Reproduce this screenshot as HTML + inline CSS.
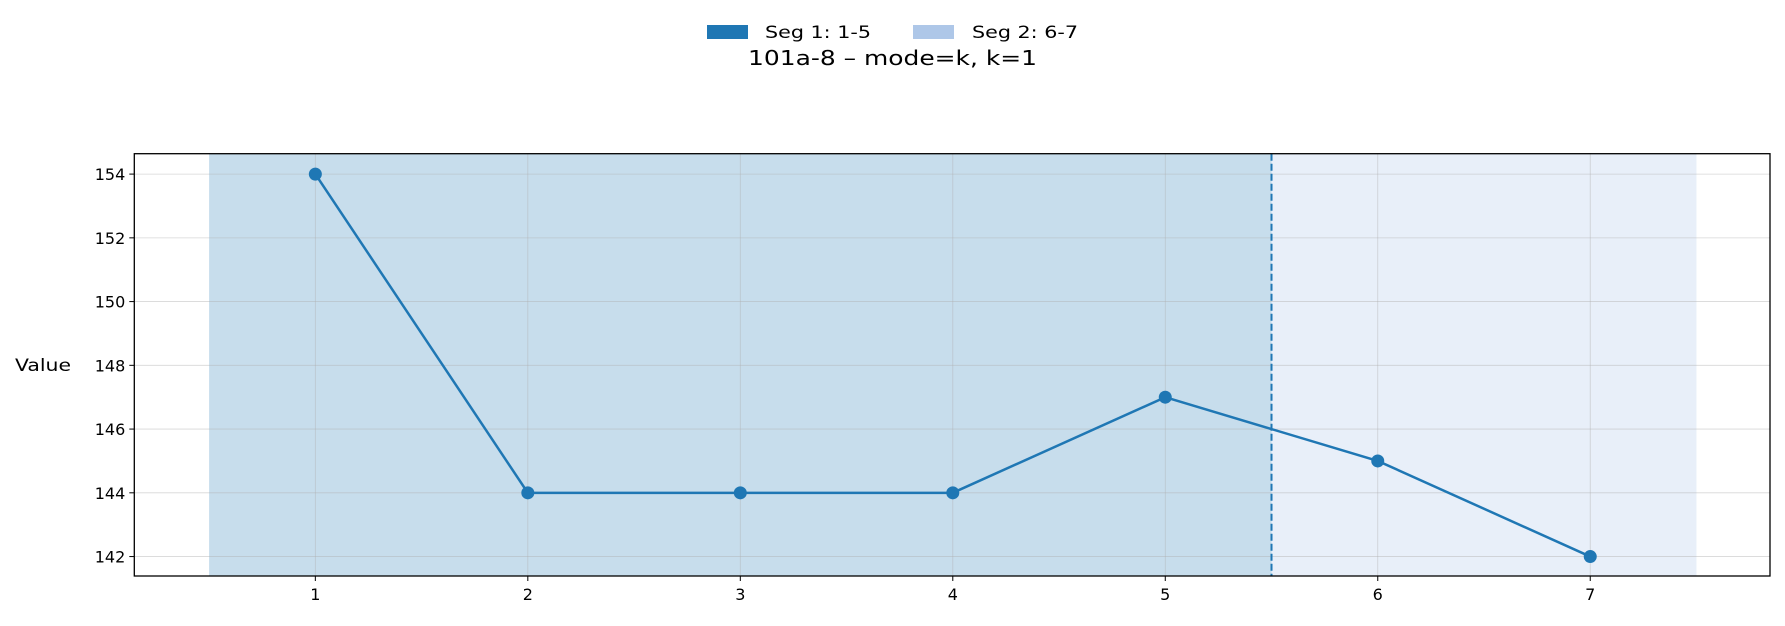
<!DOCTYPE html>
<html><head><meta charset="utf-8"><style>
body{margin:0;background:#fff;}
svg{display:block;font-family:"DejaVu Sans","Liberation Sans",sans-serif;}
</style></head><body>
<svg id="chart" width="1785" height="626" xmlns="http://www.w3.org/2000/svg">
<g>
<rect x="707" y="25" width="41" height="14" fill="#1f77b4"/>
<text x="765" y="38" font-size="17" textLength="106" lengthAdjust="spacingAndGlyphs">Seg 1: 1-5</text>
<rect x="913" y="25" width="41" height="14" fill="#aec7e8"/>
<text x="972" y="38" font-size="17" textLength="106" lengthAdjust="spacingAndGlyphs">Seg 2: 6-7</text>
</g>
<text x="748" y="65" font-size="20" textLength="289" lengthAdjust="spacingAndGlyphs">101a-8 – mode=k, k=1</text>
<text x="15" y="371" font-size="17" textLength="56" lengthAdjust="spacingAndGlyphs">Value</text>
<g id="plot"></g>
</svg>
<script>
const categories=[1,2,3,4,5,6,7];
const values=[154,144,144,144,147,145,142];
const yTicks=[142,144,146,148,150,152,154];
const segments=[[0.5,5.5,'#1f77b4',0.25],[5.5,7.5,'#aec7e8',0.28]];
const boundary=5.5;
const L=134.3,R=1770,T=153.7,B=576;
const xmin=0.148,xmax=7.846,ymin=141.39,ymax=154.64;
const xs=v=>L+(v-xmin)/(xmax-xmin)*(R-L);
const ys=v=>B-(v-ymin)/(ymax-ymin)*(B-T);
const NS='http://www.w3.org/2000/svg';
const g=document.getElementById('plot');
function mk(t,a){const e=document.createElementNS(NS,t);for(const k in a)e.setAttribute(k,a[k]);g.appendChild(e);return e;}
segments.forEach((s,i)=>{const e=mk('rect',{x:xs(s[0]),y:T,width:xs(s[1])-xs(s[0]),height:B-T,fill:s[2],'fill-opacity':s[3]});

});
categories.forEach(c=>{const e=mk('line',{x1:xs(c),x2:xs(c),y1:T,y2:B,stroke:'#b0b0b0','stroke-opacity':0.5,'stroke-width':0.8});


const t=mk('line',{x1:xs(c),x2:xs(c),y1:B,y2:B+5,stroke:'#000','stroke-width':1});


const l=mk('text',{x:xs(c),y:B+24,'font-size':16,'text-anchor':'middle'});l.textContent=c;

});
yTicks.forEach(v=>{const e=mk('line',{x1:L,x2:R,y1:ys(v),y2:ys(v),stroke:'#b0b0b0','stroke-opacity':0.5,'stroke-width':0.8});


const t=mk('line',{x1:L-5,x2:L,y1:ys(v),y2:ys(v),stroke:'#000','stroke-width':1});


const l=mk('text',{x:L-9,y:ys(v)+6,'font-size':16,'text-anchor':'end'});l.textContent=v;

});
const bl=mk('line',{x1:xs(boundary),x2:xs(boundary),y1:T,y2:B,stroke:'#1f77b4','stroke-width':2,'stroke-dasharray':'7,3'});


const pl=mk('polyline',{points:categories.map((c,i)=>xs(c)+','+ys(values[i])).join(' '),fill:'none',stroke:'#1f77b4','stroke-width':2.5});


categories.forEach((c,i)=>{const p=mk('circle',{cx:xs(c),cy:ys(values[i]),r:6.5,fill:'#1f77b4'});

});
const fr=mk('rect',{x:L,y:T,width:R-L,height:B-T,fill:'none',stroke:'#000','stroke-width':1.3});


</script>
</body></html>
